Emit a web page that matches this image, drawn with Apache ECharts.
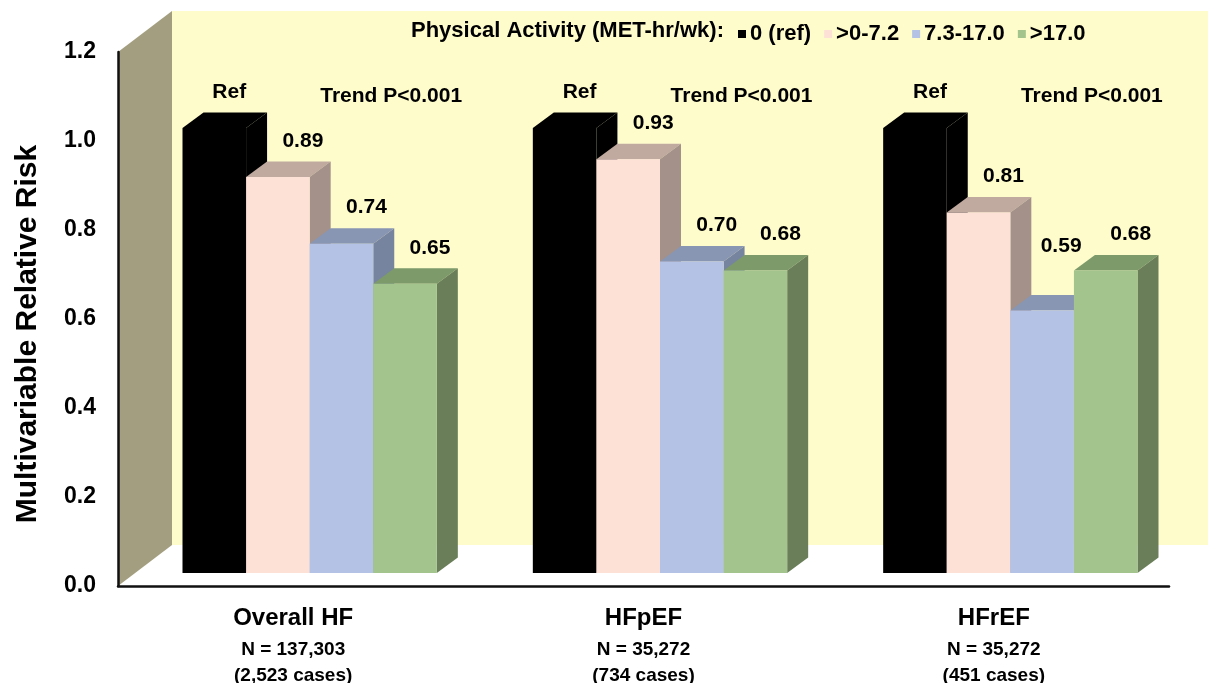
<!DOCTYPE html>
<html>
<head>
<meta charset="utf-8">
<script src="https://cdn.jsdelivr.net/npm/echarts@6/dist/echarts.min.js"></script>
<style>
  html, body { margin: 0; padding: 0; background: #ffffff; }
  #chart { width: 1208px; height: 683px; }
</style>
</head>
<body>
<div id="chart"></div>
<script>
// ---- data ----
const categories  = ['Overall HF', 'HFpEF', 'HFrEF'];
const sampleSizes = ['N = 137,303', 'N = 35,272', 'N = 35,272'];
const caseCounts  = ['(2,523 cases)', '(734 cases)', '(451 cases)'];
const levels      = ['0 (ref)', '>0-7.2', '7.3-17.0', '>17.0'];
const metNone     = [1.00, 1.00, 1.00];
const metLow      = [0.89, 0.93, 0.81];
const metMid      = [0.74, 0.70, 0.59];
const metHigh     = [0.65, 0.68, 0.68];
const trendLabels = ['Trend P<0.001', 'Trend P<0.001', 'Trend P<0.001'];
const yTicks      = [0.0, 0.2, 0.4, 0.6, 0.8, 1.0, 1.2];
const legendTitle = 'Physical Activity (MET-hr/wk):';
const yTitle      = 'Multivariable Relative Risk';

const seriesValues = [metNone, metLow, metMid, metHigh];

// ---- look ----
const FONT = "'Liberation Sans', Arial, Helvetica, sans-serif";
const faces = [
  { front: '#000000', top: '#000000', side: '#000000' },
  { front: '#FDE1D7', top: '#C0A99F', side: '#A3918A' },
  { front: '#B3C2E5', top: '#8896B4', side: '#76849F' },
  { front: '#A3C58D', top: '#7C9A6A', side: '#6A7F59' }
];
const GRID = { left: 118, top: 52, right: 39, bottom: 97 };
const WALL_DEPTH  = { x: 54, y: -41 };     // depth of the side wall / floor
const FRONT_SHIFT = { x: 16.5, y: -13 };   // bars stand back from the front edge
const BAR_DEPTH   = { x: 21, y: -15.5 };   // thickness of each block
const BAR_SHARE   = 0.1815;                // block width as a share of the band

const chart = echarts.init(document.getElementById('chart'), null, { renderer: 'canvas' });
const W = 1208, H = 683;
const x0 = GRID.left, yBase = H - GRID.bottom, yTop = GRID.top;

function blockSeries(k) {
  return {
    type: 'custom',
    name: levels[k],
    coordinateSystem: 'cartesian2d',
    itemStyle: { color: faces[k].front },
    data: seriesValues[k].map((v, i) => [i, v]),
    renderItem: function (params, api) {
      const ci = api.value(0), v = api.value(1);
      const p0 = api.coord([ci, 0]);
      const p1 = api.coord([ci, v]);
      const band = api.size([1, 0])[0];
      const bw = band * BAR_SHARE;
      const left = p0[0] + FRONT_SHIFT.x - 2 * bw + k * bw;
      const right = left + bw;
      const bottom = p0[1] + FRONT_SHIFT.y;
      const top = p1[1] + FRONT_SHIFT.y;
      const dx = BAR_DEPTH.x, dy = BAR_DEPTH.y;
      const c = faces[k];

      // value text above the block; lifted when the next block is taller
      let lx = (left + right) / 2 + (k === 0 ? 15 : 25);
      let ly = top - 36;
      if (k < 3) {
        const nv = seriesValues[k + 1][ci];
        if (nv > v) {
          const nTop = api.coord([ci, nv])[1] + FRONT_SHIFT.y + dy;
          if (nTop - 9 < ly) { ly = nTop - 9; lx -= 6; }
        }
      }
      const label = k === 0 ? 'Ref' : v.toFixed(2);

      return {
        type: 'group',
        children: [
          { type: 'polygon', shape: { points: [[left, top], [left + dx, top + dy], [right + dx, top + dy], [right, top]] },
            style: { fill: c.top } },
          { type: 'polygon', shape: { points: [[right, top], [right + dx, top + dy], [right + dx, bottom + dy], [right, bottom]] },
            style: { fill: c.side } },
          { type: 'rect', shape: { x: left, y: top, width: bw, height: bottom - top },
            style: { fill: c.front } },
          { type: 'text', style: { text: label, x: lx, y: ly, align: 'center', verticalAlign: 'middle',
            fill: '#000', fontSize: 21, fontWeight: 'bold', fontFamily: FONT } }
        ]
      };
    }
  };
}

const trendSeries = {
  type: 'custom',
  name: 'trend',
  coordinateSystem: 'cartesian2d',
  silent: true,
  data: trendLabels.map((t, i) => [i, 1.0]),
  renderItem: function (params, api) {
    const ci = api.value(0);
    const p = api.coord([ci, api.value(1)]);
    return {
      type: 'text',
      style: { text: trendLabels[ci], x: p[0] + 98, y: p[1] + FRONT_SHIFT.y - 32,
        align: 'center', verticalAlign: 'middle', fill: '#000',
        fontSize: 21, fontWeight: 'bold', fontFamily: FONT }
    };
  }
};

const option = {
  backgroundColor: '#ffffff',
  animation: false,
  grid: { left: GRID.left, top: GRID.top, right: GRID.right, bottom: GRID.bottom,
          containLabel: false, outerBoundsMode: 'none' },
  graphic: [
    // back wall
    { type: 'rect', z: -5, silent: true,
      shape: { x: x0 + WALL_DEPTH.x, y: yTop + WALL_DEPTH.y, width: W - (x0 + WALL_DEPTH.x), height: (yBase + WALL_DEPTH.y) - (yTop + WALL_DEPTH.y) },
      style: { fill: '#FFFCCC' } },
    // side wall
    { type: 'polygon', z: -4, silent: true,
      shape: { points: [[x0, yBase], [x0 + WALL_DEPTH.x, yBase + WALL_DEPTH.y], [x0 + WALL_DEPTH.x, yTop + WALL_DEPTH.y], [x0, yTop]] },
      style: { fill: '#A39E7F' } },
    // legend heading
    { type: 'text', z: 5, x: 411, y: 31,
      style: { text: legendTitle, fill: '#000', fontSize: 22, fontWeight: 'bold', fontFamily: FONT, verticalAlign: 'middle' } },
    // value-axis title
    { type: 'text', z: 5, x: 28, y: 334, rotation: Math.PI / 2,
      style: { text: yTitle, fill: '#000', fontSize: 30, fontWeight: 'bold', fontFamily: FONT,
               align: 'center', verticalAlign: 'middle' } }
  ],
  legend: {
    left: 733, top: 18,
    itemWidth: 8, itemHeight: 8, itemGap: 13,
    icon: 'rect',
    data: levels,
    textStyle: { color: '#000', fontSize: 22, fontWeight: 'bold', fontFamily: FONT, padding: [0, 0, 0, -1] },
    selectedMode: false
  },
  xAxis: {
    type: 'category',
    data: categories,
    boundaryGap: true,
    axisLine: { show: true, lineStyle: { color: '#111', width: 2.5 } },
    axisTick: { show: false },
    splitLine: { show: false },
    axisLabel: {
      margin: 15,
      interval: 0,
      formatter: function (val, i) {
        return '{a|' + val + '}\n{b|' + sampleSizes[i] + '}\n{c|' + caseCounts[i] + '}';
      },
      rich: {
        a: { fontSize: 24, fontWeight: 'bold', fontFamily: FONT, color: '#000', lineHeight: 34 },
        b: { fontSize: 19, fontWeight: 'bold', fontFamily: FONT, color: '#000', lineHeight: 30 },
        c: { fontSize: 19, fontWeight: 'bold', fontFamily: FONT, color: '#000', lineHeight: 22 }
      }
    }
  },
  yAxis: {
    type: 'value',
    min: yTicks[0], max: yTicks[yTicks.length - 1], interval: 0.2,
    axisLine: { show: true, lineStyle: { color: '#111', width: 2.5 } },
    axisTick: { show: false },
    splitLine: { show: false },
    axisLabel: {
      margin: 22,
      fontSize: 23, fontWeight: 'bold', fontFamily: FONT, color: '#000',
      formatter: v => v.toFixed(1)
    }
  },
  series: [blockSeries(0), blockSeries(1), blockSeries(2), blockSeries(3), trendSeries]
};

chart.setOption(option);
</script>
</body>
</html>
